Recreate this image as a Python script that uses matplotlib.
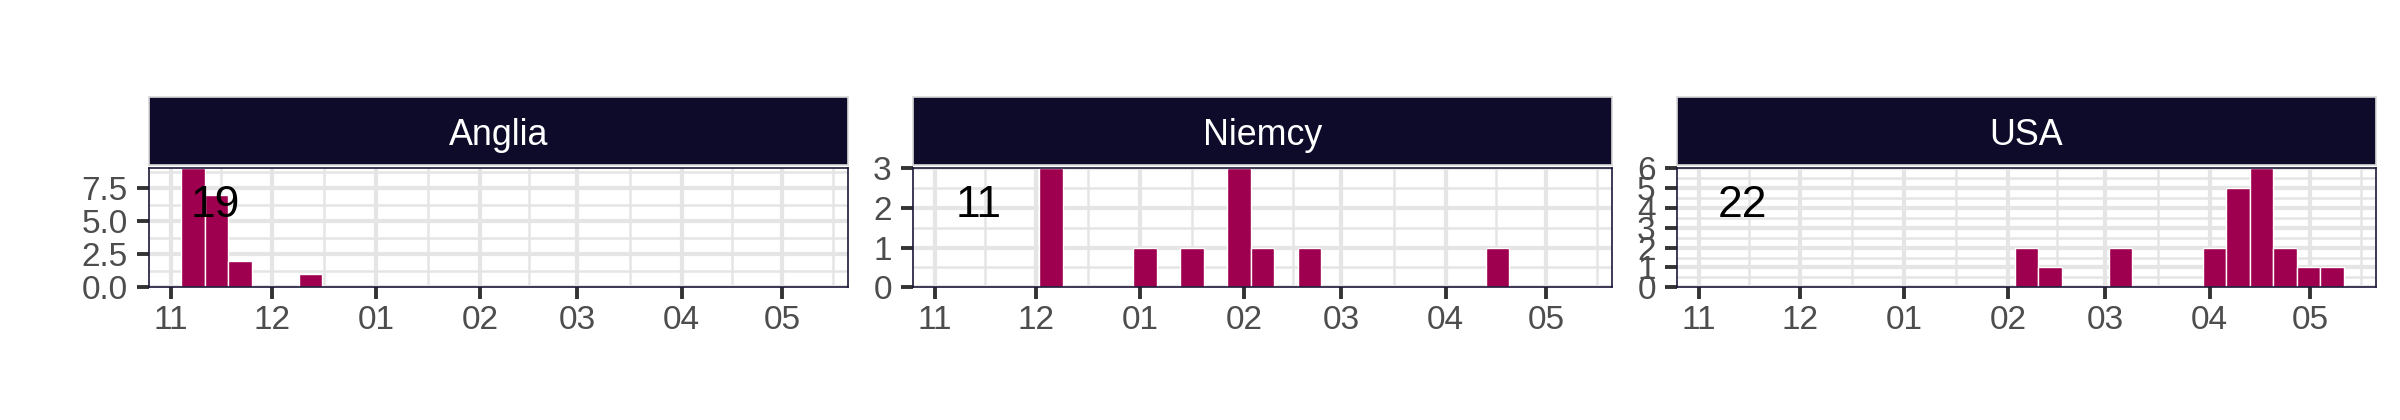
import numpy as np
import pandas as pd
import matplotlib
matplotlib.use("Agg")
import matplotlib.pyplot as plt
import matplotlib.dates as mdates
from matplotlib.ticker import MultipleLocator, FixedLocator, FormatStrFormatter

plt.rcParams['font.family'] = ['Liberation Sans', 'DejaVu Sans']

# weekly counts (weeks start on Monday), only non-empty weeks
countries = ["Anglia", "Niemcy", "USA"]
anglia_weeks = ["2019-11-04", "2019-11-11", "2019-11-18", "2019-12-09"]
anglia_counts = [9, 7, 2, 1]
niemcy_weeks = ["2019-12-02", "2019-12-30", "2020-01-13", "2020-01-27",
                "2020-02-03", "2020-02-17", "2020-04-13"]
niemcy_counts = [3, 1, 1, 3, 1, 1, 1]
usa_weeks = ["2020-02-03", "2020-02-10", "2020-03-02", "2020-03-30", "2020-04-06",
             "2020-04-13", "2020-04-20", "2020-04-27", "2020-05-04"]
usa_counts = [2, 1, 2, 2, 5, 6, 2, 1, 1]

weeks = [anglia_weeks, niemcy_weeks, usa_weeks]
counts = [anglia_counts, niemcy_counts, usa_counts]
y_major = [2.5, 1, 1]
y_fmt = ['%.1f', '%d', '%d']

BAR = "#9E004F"
STRIP = "#0E0A2A"
GRID = "#E5E5E5"
BIN = 7

# shared x range: all bins with 5% expansion
all_starts = mdates.date2num(pd.to_datetime(sum(weeks, [])))
lo, hi = all_starts.min(), all_starts.max() + BIN
pad = (hi - lo) * 0.05
xlim = (lo - pad, hi + pad)

months = mdates.date2num(pd.date_range("2019-11-01", "2020-05-01", freq="MS"))
minors = list((months[:-1] + months[1:]) / 2)
minors.append(months[-1] + (months[-1] - months[-2]) / 2)

fig = plt.figure(figsize=(24, 4.2), dpi=100)
lefts = [149.3, 913.3, 1677.3]
W, H = 2400, 420
pw = 698.4

for i, name in enumerate(countries):
    x0 = lefts[i] / W
    ax = fig.add_axes([x0, 1 - 287.3 / H, pw / W, 119 / H])
    xs = mdates.date2num(pd.to_datetime(weeks[i]))
    ax.bar(xs, counts[i], width=BIN, align='edge', color=BAR,
           edgecolor='white', linewidth=1.0, zorder=2)
    ax.set_xlim(*xlim)
    ax.set_ylim(0, max(counts[i]))

    ax.xaxis.set_major_locator(FixedLocator(months))
    ax.xaxis.set_minor_locator(FixedLocator(minors))
    ax.xaxis.set_major_formatter(mdates.DateFormatter('%m'))
    ax.yaxis.set_major_locator(MultipleLocator(y_major[i]))
    ax.yaxis.set_minor_locator(MultipleLocator(y_major[i] / 2))
    ax.yaxis.set_major_formatter(FormatStrFormatter(y_fmt[i]))

    ax.grid(which='major', color=GRID, linewidth=3.0, zorder=0)
    ax.grid(which='minor', color=GRID, linewidth=1.8, zorder=0)
    ax.set_axisbelow(True)
    ax.tick_params(which='major', length=8.5, width=2.8, color='#333333',
                   labelsize=24, labelcolor='#4D4D4D')
    ax.tick_params(axis='x', which='major', pad=4)
    ax.tick_params(axis='y', which='major', pad=7)
    ax.tick_params(which='minor', length=0)
    for s in ax.spines.values():
        s.set_color('#1C1838')
        s.set_linewidth(1.2)
        s.set_zorder(3)

    ax.text(0.094, 0.59, str(sum(counts[i])), transform=ax.transAxes,
            ha='center', va='baseline', fontsize=32, color='black', zorder=4)

    # facet strip
    sx = fig.add_axes([x0, 1 - 165 / H, pw / W, 68.3 / H])
    sx.set_facecolor(STRIP)
    sx.set_xticks([])
    sx.set_yticks([])
    for s in sx.spines.values():
        s.set_color('#D9D9D9')
        s.set_linewidth(1.2)
    sx.text(0.5, 0.29, name, transform=sx.transAxes, ha='center',
            va='baseline', fontsize=25.8, color='white')

fig.savefig("out.png", dpi=100, facecolor='white')
